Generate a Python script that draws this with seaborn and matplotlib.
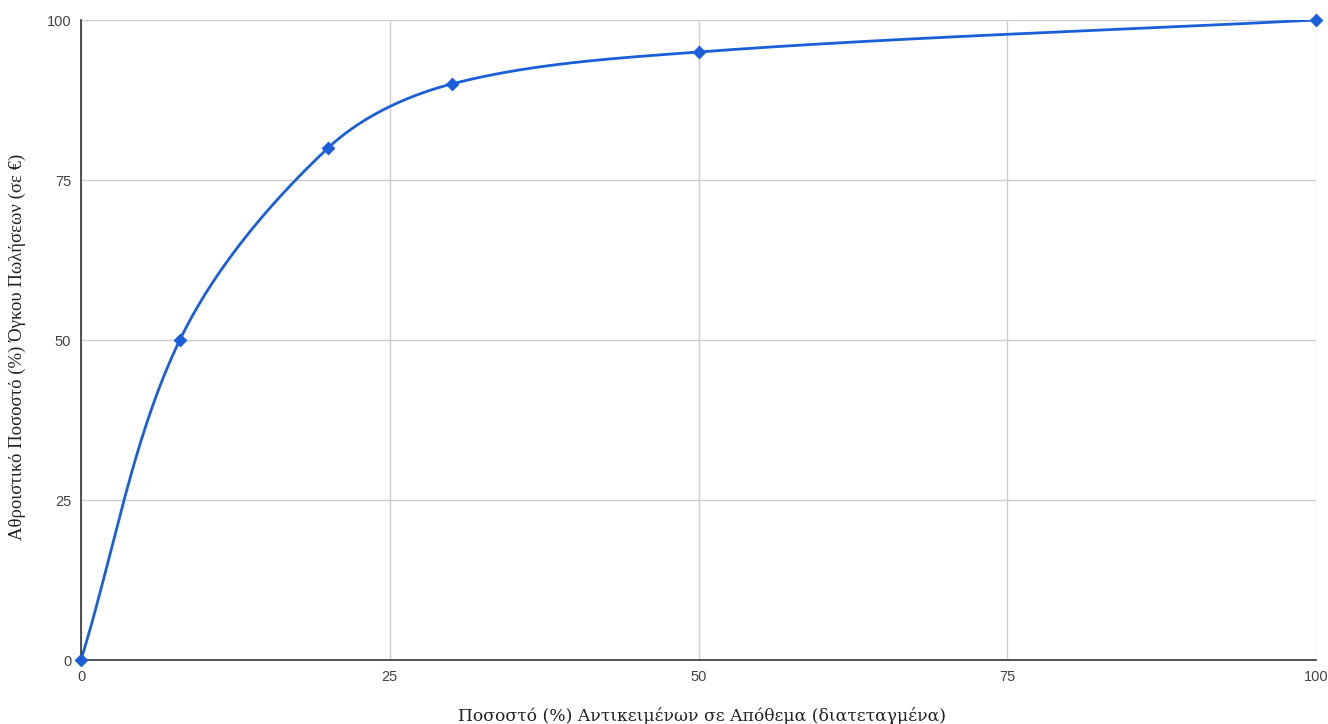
import numpy as np
import pandas as pd
import seaborn as sns
import matplotlib.pyplot as plt

# data
items_pct = [0, 8, 20, 30, 50, 100]
sales_pct = [0, 50, 80, 90, 95, 100]
ticks = [0, 25, 50, 75, 100]

df = pd.DataFrame({'x': items_pct, 'y': sales_pct})


def smooth(xs, ys, sx=12.35, sy=6.4, n=60):
    # chord-length catmull-rom drawn as bezier, distances measured on screen
    xs = np.asarray(xs, float)
    ys = np.asarray(ys, float)
    P = np.column_stack([xs * sx, ys * sy])
    d = np.linalg.norm(np.diff(P, axis=0), axis=1)
    t = np.concatenate([[0], np.cumsum(d)])
    m = np.zeros_like(P)
    for i in range(len(P)):
        a = max(i - 1, 0)
        b = min(i + 1, len(P) - 1)
        m[i] = (P[b] - P[a]) / (t[b] - t[a])
    out = []
    for i in range(len(P) - 1):
        h = d[i]
        c1 = P[i] + m[i] * h / 3
        c2 = P[i + 1] - m[i + 1] * h / 3
        u = np.linspace(0, 1, n)[:, None]
        seg = (1 - u) ** 3 * P[i] + 3 * (1 - u) ** 2 * u * c1 + 3 * (1 - u) * u ** 2 * c2 + u ** 3 * P[i + 1]
        out.append(seg)
    out = np.vstack(out)
    return pd.DataFrame({'x': out[:, 0] / sx, 'y': out[:, 1] / sy})


curve = smooth(df['x'], df['y'])

sns.set_style('white')
plt.rcParams['font.family'] = ['Liberation Sans', 'DejaVu Sans']

fig = plt.figure(figsize=(13.28, 7.24), dpi=100)
ax = fig.add_axes([81 / 1328, 64 / 724, 1235 / 1328, 640 / 724])

blue = '#1a5fd8'
sns.lineplot(data=curve, x='x', y='y', ax=ax, color=blue, linewidth=2.0, sort=False)
sns.scatterplot(data=df, x='x', y='y', ax=ax, color=blue, marker='D', s=50,
                edgecolor=blue, linewidth=0, zorder=5, clip_on=False)

ax.set_xlim(0, 100)
ax.set_ylim(0, 100)
ax.set_xticks(ticks)
ax.set_yticks(ticks)
ax.grid(True, color='#cccccc', linewidth=1)
ax.set_axisbelow(True)
for s in ['top', 'right']:
    ax.spines[s].set_visible(False)
for s in ['left', 'bottom']:
    ax.spines[s].set_color('#333333')
    ax.spines[s].set_linewidth(1.2)
ax.tick_params(axis='both', length=0, labelsize=10.5, colors='#444444')
ax.tick_params(axis='x', pad=7)
ax.tick_params(axis='y', pad=7)

ax.set_xlabel('Ποσοστό (%) Αντικειμένων σε Απόθεμα (διατεταγμένα)',
              family=['DejaVu Serif'], fontsize=12.3, color='#222222')
ax.set_ylabel('Αθροιστικό Ποσοστό (%) Όγκου Πωλήσεων (σε €)',
              family=['Liberation Serif', 'DejaVu Serif'], fontsize=13.5, color='#222222')
ax.xaxis.set_label_coords(0.5025, -0.073)
ax.yaxis.set_label_coords(-0.0445, 0.489)

fig.savefig('out.png', dpi=100)
